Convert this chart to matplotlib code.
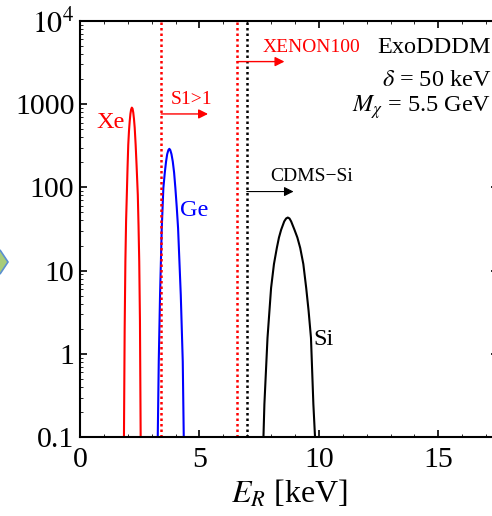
import numpy as np
import matplotlib
matplotlib.use("Agg")
import matplotlib.pyplot as plt
from matplotlib.patches import Polygon

plt.rcParams["font.family"] = ["Liberation Serif", "DejaVu Serif"]
plt.rcParams["mathtext.fontset"] = "stix"

# Recoil spectra (E_R in keV, rate)
xe_E = [1.84, 1.87, 1.90, 1.93, 1.96, 1.99, 2.02, 2.05, 2.08, 2.11, 2.14, 2.17,
        2.20, 2.23, 2.26, 2.29, 2.33, 2.37, 2.42, 2.45, 2.48, 2.51, 2.54]
xe_R = [0.1, 2.0, 12.9, 40, 81, 170, 323, 470, 615, 760, 860, 905,
        880, 790, 660, 520, 323, 180, 81, 35, 12.9, 2.5, 0.1]

ge_E = [3.255, 3.297, 3.351, 3.423, 3.49, 3.55, 3.603, 3.65, 3.70, 3.74,
        3.78, 3.83, 3.884, 3.94, 3.993, 4.05, 4.106, 4.219, 4.302, 4.344]
ge_R = [0.1, 0.81, 5.1, 32.4, 98, 150, 204, 250, 280, 290,
        280, 250, 204, 150, 98, 58, 32.4, 5.1, 0.81, 0.1]

si_E = [7.68, 7.72, 7.85, 8.00, 8.12, 8.24, 8.33, 8.42, 8.55, 8.63, 8.70,
        8.77, 8.84, 8.98, 9.10, 9.22, 9.35, 9.47, 9.57, 9.67, 9.77, 9.84]
si_R = [0.1, 0.25, 1.56, 6.2, 12, 18.7, 25, 30.9, 39, 42.3, 43.4,
        42.3, 39, 30.9, 25, 18.7, 12, 6.2, 3.3, 1.56, 0.25, 0.1]

# thresholds
s1_thr = 3.4
xenon_thr = 6.58
cdms_thr = 6.98

ytick_vals = [0.1, 1, 10, 100, 1000, 1e4]
ytick_labels = ["0.1", "1", "10", "100", "1000", r"$10^4$"]
xtick_vals = [0, 5, 10, 15]

fig = plt.figure(figsize=(4.92, 5.16), dpi=100)
ax = fig.add_axes([80 / 492, 78.7 / 516, 418 / 492, 416.6 / 516])

ax.plot(xe_E, xe_R, color="red", lw=1.5, solid_joinstyle="round")
ax.plot(ge_E, ge_R, color="blue", lw=1.5, solid_joinstyle="round")
ax.plot(si_E, si_R, color="black", lw=1.5, solid_joinstyle="round")

# threshold lines
ax.axvline(s1_thr, color="red", ls=(0, (1, 1.2)), lw=1.8)
ax.axvline(xenon_thr, color="red", ls=(0, (1, 1.2)), lw=1.8)
ax.axvline(cdms_thr, color="black", ls=(0, (1, 1.2)), lw=1.8)

# arrows
ax.annotate("", xy=(5.36, 760), xytext=(s1_thr, 760),
            arrowprops=dict(arrowstyle="-|>", color="red", lw=1.0,
                            mutation_scale=14, shrinkA=0, shrinkB=0))
ax.annotate("", xy=(8.56, 3230), xytext=(xenon_thr, 3230),
            arrowprops=dict(arrowstyle="-|>", color="red", lw=1.0,
                            mutation_scale=14, shrinkA=0, shrinkB=0))
ax.annotate("", xy=(8.94, 89), xytext=(cdms_thr, 89),
            arrowprops=dict(arrowstyle="-|>", color="black", lw=0.8,
                            mutation_scale=14, shrinkA=0, shrinkB=0))

ax.text(4.69, 1120, "S1>1", color="red", fontsize=14, ha="center", va="center")
ax.text(9.68, 4740, "XENON100", color="red", fontsize=14, ha="center", va="center")
ax.text(9.68, 135, "CDMS\u2212Si", color="black", fontsize=14, ha="center", va="center")

ax.text(1.30, 593, "Xe", color="red", fontsize=17.5, ha="center", va="center")
ax.text(4.80, 53, "Ge", color="blue", fontsize=17.5, ha="center", va="center")
ax.text(10.2, 1.48, "Si", color="black", fontsize=17.5, ha="center", va="center")

# model box text, right aligned at image edge
wb = dict(facecolor="white", edgecolor="none", pad=4)
fig.text(491 / 492, 1 - 47.7 / 516, "ExoDDDM", fontsize=17.5, ha="right", va="center", bbox=wb)
fig.text(491 / 492, 1 - 80 / 516, r"$\delta$ = 50 keV", fontsize=17.5, ha="right", va="center")
fig.text(491 / 492, 1 - 106.7 / 516, r"$M_\chi$ = 5.5 GeV", fontsize=17.5, ha="right", va="center", bbox=wb)

ax.set_yscale("log")
ax.set_xlim(0, 17.5)
ax.set_ylim(0.1, 1e4)
ax.set_xticks(xtick_vals)
ax.set_xticks(np.arange(0, 18, 1), minor=True)
ax.set_yticks(ytick_vals)
ax.set_yticklabels(ytick_labels)
ax.tick_params(which="both", direction="in", top=True, right=True)
ax.tick_params(which="major", length=5, width=1.2, labelsize=21.5)
ax.tick_params(which="minor", length=2.5, width=0.6)
ax.tick_params(axis="x", pad=7)
ax.tick_params(axis="y", pad=4)
for s in ax.spines.values():
    s.set_linewidth(1.5)

ax.set_xlabel(r"$E_R$ [keV]", fontsize=23, labelpad=4)

# slide arrow remnant at left edge
fig.patches.append(Polygon([[-8 / 492, 1 - 262 / 516], [0, 1 - 250 / 516],
                            [8 / 492, 1 - 262 / 516], [0, 1 - 274 / 516]],
                           closed=True, transform=fig.transFigure,
                           facecolor="#a8cc7a", edgecolor="#5b8fd0", lw=1.2))

fig.savefig("out.png", dpi=100)
